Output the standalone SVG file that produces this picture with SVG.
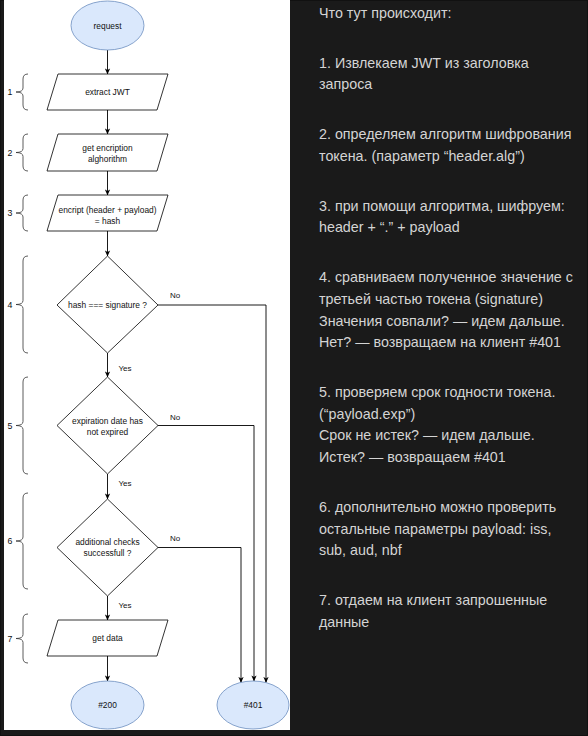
<svg xmlns="http://www.w3.org/2000/svg" width="588" height="736" viewBox="0 0 588 736">
<defs>
<style>
.shape{fill:#fff;stroke:#000;stroke-width:0.8}
.term{fill:#dae8fc;stroke:#6c8ebf;stroke-width:0.8}
.lbl{font-family:"Liberation Sans",Arial,sans-serif;font-size:8.4px;fill:#111;text-anchor:middle}
.elbl{font-family:"Liberation Sans",Arial,sans-serif;font-size:8px;fill:#111}
.num{font-family:"Liberation Sans",Arial,sans-serif;font-size:8.8px;fill:#111;text-anchor:middle}
.brace{fill:none;stroke:#333;stroke-width:0.8}
.edge{fill:none;stroke:#000;stroke-width:0.9}
.note{font-family:"Liberation Sans",Arial,sans-serif;font-size:14.3px;fill:#d4d4d4}
</style>
<marker id="arr" viewBox="0 0 8 8" refX="7.5" refY="4" markerWidth="6" markerHeight="6" orient="auto" markerUnits="userSpaceOnUse">
<path d="M0,0.5 L8,4 L0,7.5 L2,4 z" fill="#000"/>
</marker>
</defs>
<rect x="0" y="0" width="588" height="736" fill="#1a1a1a"/>
<rect x="0.5" y="0.5" width="587" height="735" fill="none" stroke="#111" stroke-width="1"/>
<rect x="4" y="0" width="286" height="730" fill="#fff"/>

<g id="braces">
<g id="brace1"><path class="brace" d="M28,74 Q23,74 23,79 L23,88 Q23,92 16,92 Q23,92 23,96 L23,105 Q23,110 28,110"/><text class="num" x="10" y="95">1</text></g>
<g id="brace2"><path class="brace" d="M28,134 Q23,134 23,139 L23,148.5 Q23,152.5 16,152.5 Q23,152.5 23,156.5 L23,166 Q23,171 28,171"/><text class="num" x="10" y="155.5">2</text></g>
<g id="brace3"><path class="brace" d="M28,195 Q23,195 23,200 L23,209 Q23,213 16,213 Q23,213 23,217 L23,226 Q23,231 28,231"/><text class="num" x="10" y="216">3</text></g>
<g id="brace4"><path class="brace" d="M28,256 Q23,256 23,261 L23,300.5 Q23,304.5 16,304.5 Q23,304.5 23,308.5 L23,348 Q23,353 28,353"/><text class="num" x="10" y="307.5">4</text></g>
<g id="brace5"><path class="brace" d="M28,377 Q23,377 23,382 L23,421.5 Q23,425.5 16,425.5 Q23,425.5 23,429.5 L23,469 Q23,474 28,474"/><text class="num" x="10" y="428.5">5</text></g>
<g id="brace6"><path class="brace" d="M28,493 Q23,493 23,498 L23,537 Q23,541 16,541 Q23,541 23,545 L23,584 Q23,589 28,589"/><text class="num" x="10" y="544">6</text></g>
<g id="brace7"><path class="brace" d="M28,614 Q23,614 23,619 L23,634.5 Q23,638.5 16,638.5 Q23,638.5 23,642.5 L23,658 Q23,663 28,663"/><text class="num" x="10" y="641.5">7</text></g>
</g>

<g id="connectors">
<path class="edge" d="M107.5,50 V74" marker-end="url(#arr)"/>
<path class="edge" d="M107.5,110 V134" marker-end="url(#arr)"/>
<path class="edge" d="M107.5,171 V195" marker-end="url(#arr)"/>
<path class="edge" d="M107.5,231 V256" marker-end="url(#arr)"/>
<path class="edge" d="M107.5,353 V377" marker-end="url(#arr)"/>
<path class="edge" d="M107.5,474 V499" marker-end="url(#arr)"/>
<path class="edge" d="M107.5,596 V620" marker-end="url(#arr)"/>
<path class="edge" d="M107.5,656 V681" marker-end="url(#arr)"/>
<path class="edge" d="M158,305 H266 V682.5" marker-end="url(#arr)"/>
<path class="edge" d="M158,425.5 H254 V681" marker-end="url(#arr)"/>
<path class="edge" d="M158,547.5 H241 V682.5" marker-end="url(#arr)"/>
<text class="elbl" x="170" y="298">No</text>
<text class="elbl" x="170" y="420">No</text>
<text class="elbl" x="170" y="541">No</text>
<text class="elbl" x="118.5" y="371">Yes</text>
<text class="elbl" x="118.5" y="486">Yes</text>
<text class="elbl" x="118.5" y="608">Yes</text>
</g>

<g id="request"><ellipse class="term" cx="107.5" cy="25.5" rx="36.5" ry="24.5"/><text class="lbl" x="107.5" y="28.5">request</text></g>
<g id="extract"><polygon class="shape" points="58,74 168,74 157,110 47,110"/><text class="lbl" x="107.5" y="95">extract JWT</text></g>
<g id="getalg"><polygon class="shape" points="58,134 168,134 157,171 47,171"/><text class="lbl" x="107.5" y="151">get encription</text><text class="lbl" x="107.5" y="161.5">alghorithm</text></g>
<g id="encrypt"><polygon class="shape" points="58,195 168,195 157,231 47,231"/><text class="lbl" x="107.5" y="213">encript (header + payload)</text><text class="lbl" x="107.5" y="223.5">= hash</text></g>
<g id="check-sig"><polygon class="shape" points="107.5,256 158,305 107.5,353 57,305"/><text class="lbl" x="107.5" y="308">hash === signature ?</text></g>
<g id="check-exp"><polygon class="shape" points="107.5,377 158,425.5 107.5,474 57,425.5"/><text class="lbl" x="107.5" y="424">expiration date has</text><text class="lbl" x="107.5" y="435">not expired</text></g>
<g id="check-add"><polygon class="shape" points="107.5,499 158,547.5 107.5,596 57,547.5"/><text class="lbl" x="107.5" y="545">additional checks</text><text class="lbl" x="107.5" y="556">successfull ?</text></g>
<g id="getdata"><polygon class="shape" points="58,620 168,620 157,656 47,656"/><text class="lbl" x="107.5" y="641">get data</text></g>
<g id="r200"><ellipse class="term" cx="107.5" cy="705" rx="36.5" ry="24"/><text class="lbl" x="107.5" y="708">#200</text></g>
<g id="r401"><ellipse class="term" cx="253" cy="705" rx="36" ry="24"/><text class="lbl" x="253" y="708">#401</text></g>

<g id="notes" class="note">
<text x="319" y="17.5">Что тут происходит:</text>
<text x="319" y="67.5">1. Извлекаем JWT из заголовка</text>
<text x="319" y="89.1">запроса</text>
<text x="319" y="139.1">2. определяем алгоритм шифрования</text>
<text x="319" y="160.7">токена. (параметр “header.alg”)</text>
<text x="319" y="210.7">3. при помощи алгоритма, шифруем:</text>
<text x="319" y="232.3">header + “.” + payload</text>
<text x="319" y="282.3">4. сравниваем полученное значение с</text>
<text x="319" y="303.9">третьей частью токена (signature)</text>
<text x="319" y="325.5">Значения совпали? — идем дальше.</text>
<text x="319" y="347.1">Нет? — возвращаем на клиент #401</text>
<text x="319" y="397.1">5. проверяем срок годности токена.</text>
<text x="319" y="418.7">(“payload.exp”)</text>
<text x="319" y="440.3">Срок не истек? — идем дальше.</text>
<text x="319" y="461.9">Истек? — возвращаем #401</text>
<text x="319" y="511.9">6. дополнительно можно проверить</text>
<text x="319" y="533.5">остальные параметры payload: iss,</text>
<text x="319" y="555.1">sub, aud, nbf</text>
<text x="319" y="605.1">7. отдаем на клиент запрошенные</text>
<text x="319" y="626.7">данные</text>
</g>
</svg>
